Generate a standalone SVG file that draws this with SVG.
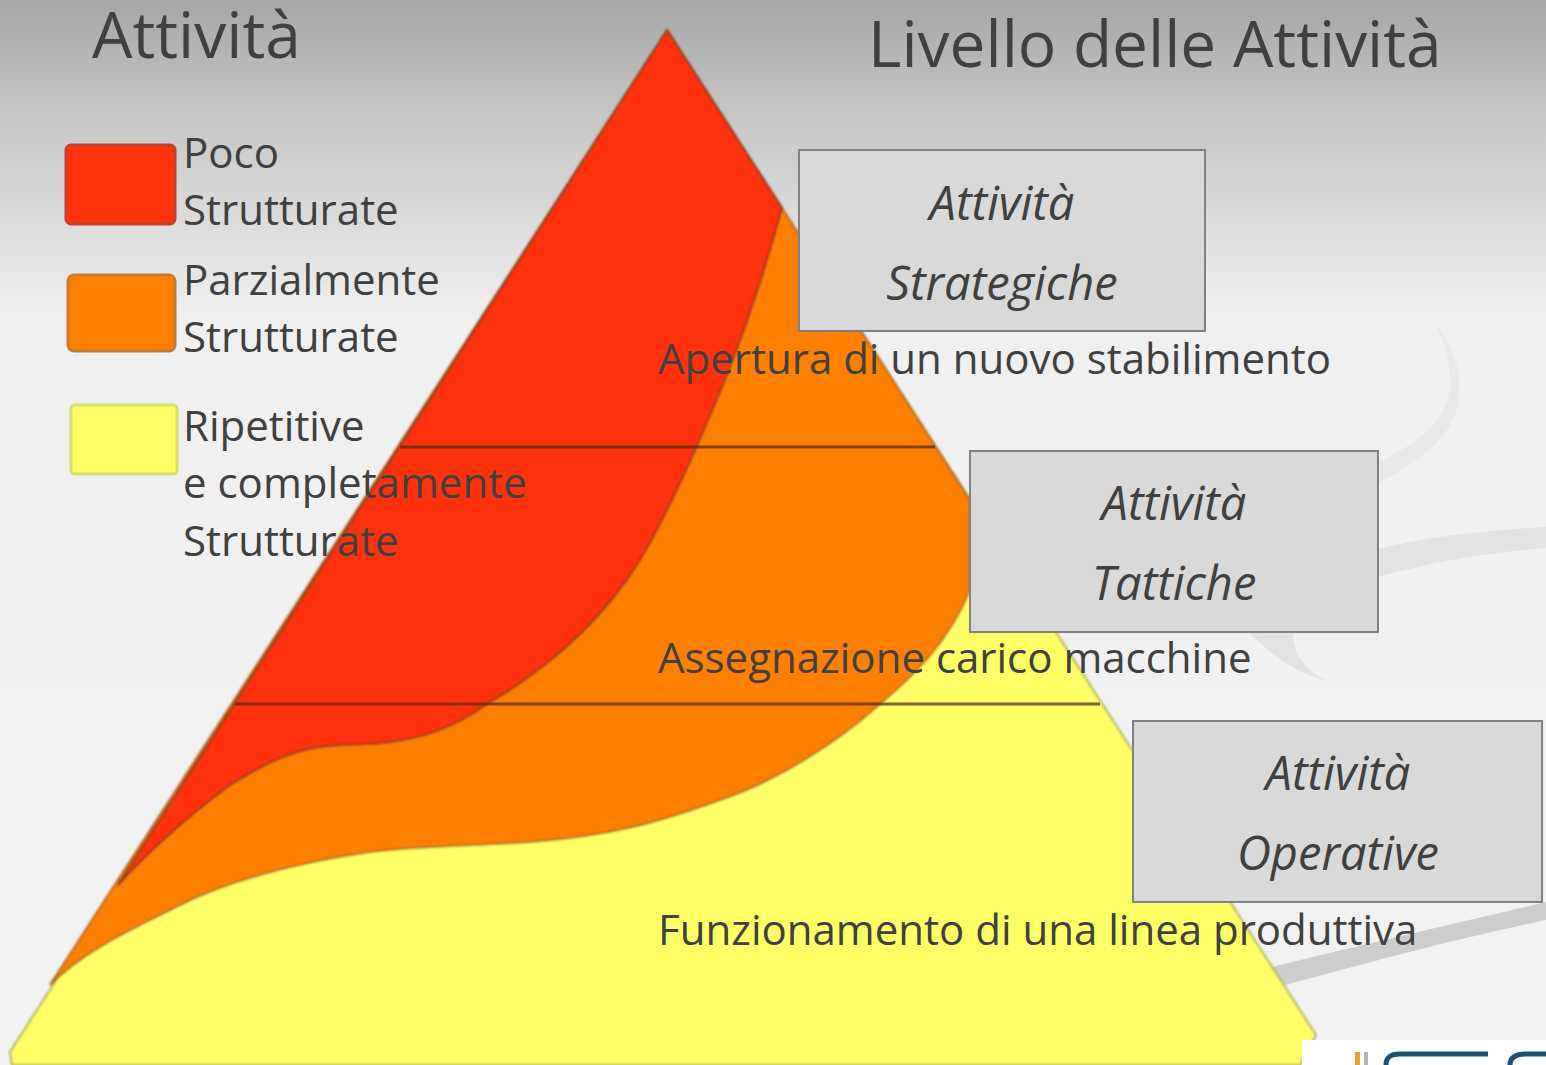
<svg xmlns="http://www.w3.org/2000/svg" width="1546" height="1065" viewBox="0 0 1546 1065">
<defs>
<linearGradient id="bg" x1="0" y1="0" x2="0" y2="1"><stop offset="0" stop-color="#a6a6a6"/><stop offset="0.1" stop-color="#c4c4c4"/><stop offset="0.3" stop-color="#f0f0f0"/><stop offset="1" stop-color="#f2f2f2"/></linearGradient>
<filter id="soft" x="-5%" y="-5%" width="110%" height="110%"><feGaussianBlur stdDeviation="1"/></filter>
</defs>
<style>
text{font-family:"Open Sans","Noto Sans","DejaVu Sans",sans-serif;fill:#404040}
.h{font-size:64px}
.l{font-size:42px}
.i{font-size:47px;font-style:italic;text-anchor:middle}
.box{fill:#d9d9d9;stroke:#808080;stroke-width:2}
.sep{stroke:#5a2a10;stroke-width:3;opacity:.75;fill:none}
</style>
<rect id="background" width="1546" height="1065" fill="url(#bg)"/>
<g id="swooshes">
<path d="M1433 322C1460 350 1468 395 1450 425C1435 450 1405 470 1378 483L1378 462C1415 445 1450 420 1450 385C1450 360 1445 340 1433 322Z" fill="#e8e8e8"/>
<path d="M1378 474C1430 462 1490 458 1546 455" fill="none"/>
<path d="M1378 549C1430 536 1490 530 1546 527L1546 548C1490 552 1430 562 1378 577Z" fill="#e3e3e3"/>
<path d="M1250 632C1275 655 1300 668 1330 681C1310 675 1275 660 1250 632Z" fill="#e3e3e3"/>
<path d="M1293 632C1292 650 1300 665 1325 681C1295 672 1270 655 1249 632Z" fill="#e3e3e3"/>
<path d="M1268 968C1360 945 1450 925 1546 902L1546 920C1450 940 1360 965 1285 985Z" fill="#cdcdcd"/>
</g>
<g id="pyramid" filter="url(#soft)">
<path d="M667 30L1316 1035L1300 1065L12 1065L10 1052Z" fill="#ffff66" stroke="#b5b060" stroke-width="2"/>
<path d="M667 30L970 500L970 590C950 640 915 675 880 704C840 740 780 780 720 800C660 822 610 836 530 842C470 846 420 846 370 852C300 862 230 880 180 905C130 930 85 950 50 985Z" fill="#ff8000" stroke="#b06a20" stroke-width="2"/>
<path d="M667 30L782 208C765 270 745 330 725 380C700 440 670 510 640 560C600 625 545 670 487 704C445 735 400 745 340 745C300 747 270 760 230 785C190 815 150 850 118 885Z" fill="#ff330a" stroke="#8a3a20" stroke-width="2"/>
</g>
<g id="connectors">
<path class="sep" d="M400 447H935"/>
<path class="sep" d="M235 704H1100"/>
</g>
<g id="legend-red"><rect x="66" y="145" width="109" height="79" rx="5" fill="#ff330a" stroke="#c8402a" stroke-width="3"/></g>
<g id="legend-orange"><rect x="68" y="275" width="107" height="76" rx="6" fill="#ff8000" stroke="#c87a30" stroke-width="3"/></g>
<g id="legend-yellow"><rect x="71" y="405" width="106" height="69" rx="4" fill="#ffff66" stroke="#dede70" stroke-width="3"/></g>
<g id="logo">
<rect x="1302" y="1040" width="244" height="25" fill="#fff"/>
<rect x="1355" y="1052" width="5" height="13" fill="#f0a030"/>
<rect x="1364" y="1052" width="4" height="13" fill="#b0b4b8"/>
<path d="M1386 1065C1386 1056 1392 1054 1400 1054H1488" fill="none" stroke="#1a5276" stroke-width="5"/>
<path d="M1510 1065C1510 1056 1518 1054 1526 1054H1546" fill="none" stroke="#1a5276" stroke-width="5"/>
</g>
<g id="title-left"><text class="h" x="92" y="58">Attività</text></g>
<g id="title-right"><text class="h" x="868" y="67">Livello delle Attività</text></g>
<g id="legend-text">
<text class="l" x="183" y="168">Poco</text>
<text class="l" x="183" y="225">Strutturate</text>
<text class="l" x="183" y="295">Parzialmente</text>
<text class="l" x="183" y="352">Strutturate</text>
<text class="l" x="183" y="441">Ripetitive</text>
<text class="l" x="183" y="498">e completamente</text>
<text class="l" x="183" y="556">Strutturate</text>
</g>
<g id="box-strategiche"><rect class="box" x="799" y="150" width="406" height="181"/>
<text class="i" x="1002" y="220">Attività</text><text class="i" x="1002" y="300">Strategiche</text></g>
<g id="box-tattiche"><rect class="box" x="970" y="451" width="408" height="181"/>
<text class="i" x="1174" y="520">Attività</text><text class="i" x="1174" y="600">Tattiche</text></g>
<g id="box-operative"><rect class="box" x="1133" y="721" width="409" height="181"/>
<text class="i" x="1338" y="790">Attività</text><text class="i" x="1338" y="870">Operative</text></g>
<g id="examples">
<text class="l" x="658" y="374">Apertura di un nuovo stabilimento</text>
<text class="l" x="658" y="673">Assegnazione carico macchine</text>
<text class="l" x="658" y="945">Funzionamento di una linea produttiva</text>
</g>
</svg>
